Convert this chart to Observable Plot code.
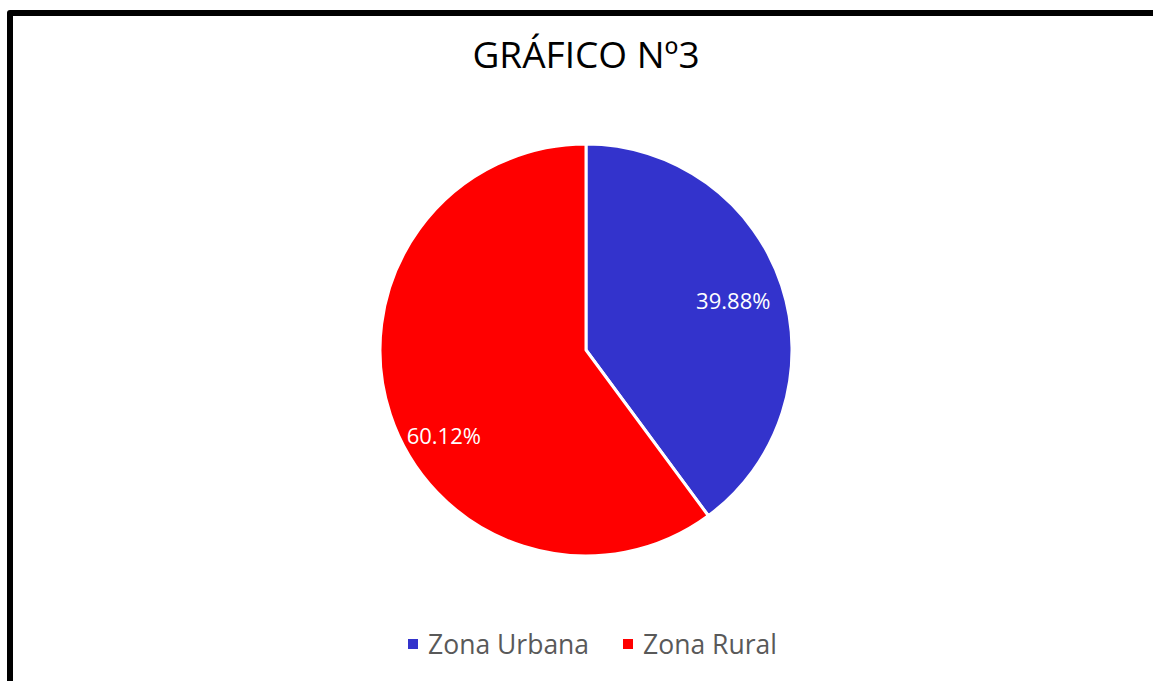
<!DOCTYPE html>
<html>
<head>
<meta charset="utf-8">
<script src="https://cdn.jsdelivr.net/npm/d3@7"></script>
<script src="https://cdn.jsdelivr.net/npm/@observablehq/plot@0.6"></script>
<style>
  html, body { margin: 0; padding: 0; background: #fff; }
  body { width: 1153px; height: 681px; position: relative; overflow: hidden; font-family: "Open Sans", "Noto Sans", sans-serif; }
  #frame { position: absolute; left: 7px; top: 10px; width: 1200px; height: 720px; border: 6px solid #000; border-radius: 3px; box-sizing: border-box; }
  #title { position: absolute; left: 0; width: 1172px; top: 32px; text-align: center; font-size: 37px; color: #000; line-height: 1.2; }
  #chart { position: absolute; left: 0; top: 130px; }
  #legend { position: absolute; left: 0; width: 1185px; top: 626px; display: flex; justify-content: center; align-items: center; font-size: 26.5px; color: #595959; }
  .item { display: flex; align-items: center; margin: 0 17px; }
  .sw { width: 10px; height: 10px; margin-right: 10px; }
</style>
</head>
<body>
<div id="frame"></div>
<div id="title">GRÁFICO Nº3</div>
<div id="chart"></div>
<div id="legend"></div>
<script>
const categories = ["Zona Urbana", "Zona Rural"];
const values = [39.88, 60.12];
const labels = ["39.88%", "60.12%"];
const colors = ["#3333CC", "#FF0000"];

const data = categories.map((c, i) => ({category: c, value: values[i], label: labels[i], color: colors[i]}));
const arcs = d3.pie().value(d => d.value).sort(null)(data);

// label placement (fraction along slice, fraction of radius)
const labelPlace = [[0.5, 0.75], [0.44, 0.81]];
const labelData = arcs.map((a, i) => {
  const [f, r] = labelPlace[i];
  const ang = a.startAngle + f * (a.endAngle - a.startAngle);
  return {x: r * Math.sin(ang), y: r * Math.cos(ang), label: a.data.label};
});

const W = 1153, H = 440, cx = 586, cy = 220, R = 206;

const pieMark = (index, scales, values, dims, context) => {
  const x0 = scales.x(0), y0 = scales.y(0);
  const rad = Math.abs(scales.x(1) - scales.x(0));
  const arc = d3.arc().innerRadius(0).outerRadius(rad);
  const g = d3.create("svg:g").attr("transform", `translate(${x0},${y0})`);
  g.selectAll("path").data(arcs).join("path")
    .attr("d", arc)
    .attr("fill", d => d.data.color)
    .attr("stroke", "#fff")
    .attr("stroke-width", 3)
    .attr("stroke-linejoin", "round");
  return g.node();
};

const plot = Plot.plot({
  width: W,
  height: H,
  margin: 0,
  x: {domain: [-1, 1], range: [cx - R, cx + R], axis: null},
  y: {domain: [-1, 1], range: [cy + R, cy - R], axis: null},
  style: {background: "transparent", fontFamily: "'Open Sans', sans-serif"},
  marks: [
    pieMark,
    Plot.text(labelData, {x: "x", y: "y", text: "label", fill: "#fff", fontSize: 22})
  ]
});
document.getElementById("chart").appendChild(plot);

const legend = document.getElementById("legend");
categories.forEach((c, i) => {
  const it = document.createElement("div");
  it.className = "item";
  const sw = document.createElement("span");
  sw.className = "sw";
  sw.style.background = colors[i];
  const t = document.createElement("span");
  t.textContent = c;
  it.appendChild(sw); it.appendChild(t);
  legend.appendChild(it);
});
</script>
</body>
</html>
